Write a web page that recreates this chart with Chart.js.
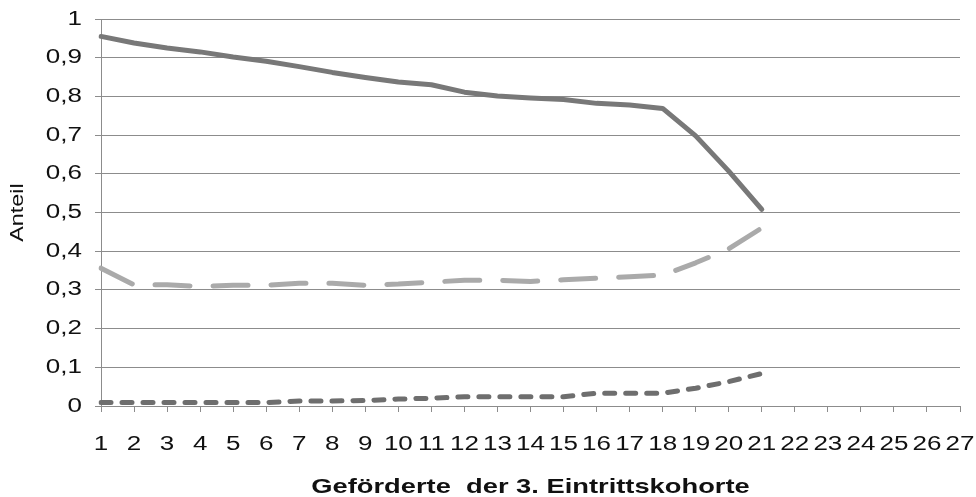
<!DOCTYPE html>
<html>
<head>
<meta charset="utf-8">
<script src="https://cdn.jsdelivr.net/npm/chart.js@4/dist/chart.umd.min.js"></script>
<style>
  body { margin: 0; background: #fff; }
  #wrap { width: 976px; height: 497px; }
</style>
</head>
<body>
<div id="wrap"><canvas id="c" width="976" height="497"></canvas></div>
<script>
var cohortYears = ['1', '2', '3', '4', '5', '6', '7', '8', '9', '10', '11', '12', '13', '14',
    '15', '16', '17', '18', '19', '20', '21', '22', '23', '24', '25', '26', '27'];

// three shares per year, only the first 21 years are known
var shareMain = [0.955, 0.938, 0.925, 0.915, 0.902, 0.891, 0.877, 0.862, 0.849, 0.837, 0.830,
    0.811, 0.801, 0.796, 0.792, 0.782, 0.778, 0.769, 0.698, 0.607, 0.508];
var shareMid = [0.356, 0.313, 0.313, 0.309, 0.312, 0.312, 0.317, 0.317, 0.312, 0.315, 0.320,
    0.325, 0.325, 0.322, 0.326, 0.330, 0.334, 0.338, 0.370, 0.406, 0.460];
var shareLow = [0.009, 0.009, 0.009, 0.009, 0.009, 0.009, 0.013, 0.013, 0.014, 0.018, 0.020,
    0.024, 0.024, 0.024, 0.024, 0.033, 0.033, 0.033, 0.046, 0.063, 0.084];

var yTickLabels = ['0', '0,1', '0,2', '0,3', '0,4', '0,5', '0,6', '0,7', '0,8', '0,9', '1'];

var gridGray = '#8c8c8c';
var font = 'Liberation Sans, Arial, sans-serif';

// text in this chart is set wide: stretch every label along its
// own reading direction, around its anchor point
var textWidth = 1.3;
var ctx = document.getElementById('c').getContext('2d');
var plainFill = ctx.fillText.bind(ctx);
var plainMeasure = ctx.measureText.bind(ctx);
ctx.fillText = function (text, x, y) {
    ctx.save();
    ctx.translate(x, y);
    ctx.scale(textWidth, 1);
    plainFill(text, 0, 0);
    ctx.restore();
};
ctx.measureText = function (text) {
    var r = plainMeasure(text);
    return { width: r.width * textWidth, actualBoundingBoxAscent: r.actualBoundingBoxAscent,
        actualBoundingBoxDescent: r.actualBoundingBoxDescent };
};

function lineSet(values, color, dash) {
    return {
        data: values,
        borderColor: color,
        borderWidth: 5,
        borderDash: dash,
        borderCapStyle: 'round',
        borderJoinStyle: 'round',
        pointRadius: 0,
        tension: 0,
        fill: false
    };
}

new Chart(ctx, {
    type: 'line',
    data: {
        labels: cohortYears,
        datasets: [
            lineSet(shareMain, '#787878', []),
            lineSet(shareMid, '#aaaaaa', [35, 23]),
            lineSet(shareLow, '#6e6e6e', [10, 11])
        ]
    },
    options: {
        responsive: false,
        animation: false,
        layout: {
            padding: { left: 0, right: 16, top: 19, bottom: 0 }
        },
        plugins: {
            legend: { display: false },
            tooltip: { enabled: false }
        },
        scales: {
            x: {
                offset: false,
                afterFit: function (scale) {
                    scale.height = 91;
                    scale.paddingLeft = 0;
                    scale.paddingRight = 0;
                },
                grid: { drawOnChartArea: false, tickLength: 6, color: gridGray },
                border: { color: gridGray, width: 1 },
                ticks: {
                    autoSkip: false,
                    maxRotation: 0,
                    padding: 20,
                    color: '#111',
                    font: { family: font, size: 20 }
                },
                title: {
                    display: true,
                    text: 'Geförderte  der 3. Eintrittskohorte',
                    color: '#111',
                    font: { family: font, size: 21, weight: 'bold' },
                    padding: { top: 0, bottom: -3 }
                }
            },
            y: {
                min: 0,
                max: 1,
                afterFit: function (scale) {
                    scale.width = 101;
                    scale.paddingTop = 0;
                    scale.paddingBottom = 0;
                },
                grid: { color: gridGray, tickLength: 6 },
                border: { color: gridGray, width: 1 },
                ticks: {
                    stepSize: 0.1,
                    padding: 13,
                    color: '#111',
                    font: { family: font, size: 20 },
                    callback: function (value, index) { return yTickLabels[index]; }
                },
                title: {
                    display: true,
                    text: 'Anteil',
                    color: '#111',
                    font: { family: font, size: 18 },
                    padding: { top: 7, bottom: 0 }
                }
            }
        }
    }
});
</script>
</body>
</html>
